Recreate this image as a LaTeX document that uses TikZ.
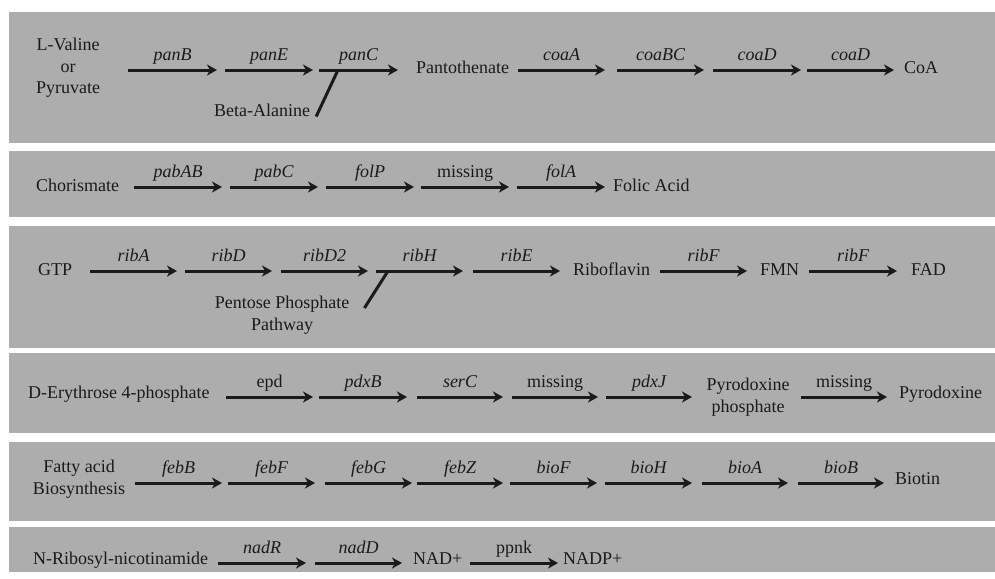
\documentclass[tikz,border=0pt]{standalone}
\usepackage{fontspec}
\setmainfont{Liberation Serif}
\usetikzlibrary{arrows.meta}

\definecolor{panelgray}{HTML}{ADADAD}
\definecolor{ink}{HTML}{1A1A1A}

\begin{document}
\begin{tikzpicture}[x=1pt, y=-1pt,
    every node/.style={font=\fontsize{18}{21.5}\selectfont, text=ink, inner sep=3pt},
    panel/.style={fill=panelgray},
    flow/.style={draw=ink, line width=3pt, -{Stealth[length=10pt,width=11pt,inset=3pt]}},
    feed/.style={draw=ink, line width=3pt},
    gene/.style={midway, anchor=base, yshift=10pt, font=\fontsize{18}{21.5}\selectfont\itshape},
    met/.style={anchor=base west},
    multi/.style={align=center}]

    % white page and the six grey bands
    \fill[white] (0,0) rectangle (995,578);
    \useasboundingbox (0,0) rectangle (995,578);
    \fill[panel] (9,12) rectangle (995,143);
    \fill[panel] (9,151) rectangle (995,217);
    \fill[panel] (9,226) rectangle (995,348);
    \fill[panel] (9,353) rectangle (995,433);
    \fill[panel] (9,442) rectangle (995,521);
    \fill[panel] (9,527) rectangle (995,572);

    % Coenzyme A
    \node[multi] (lval) at (68,68) {L-Valine\\or\\Pyruvate};
    \foreach \s/\e/\g [count=\i] in {128/217/panB, 225/313/panE, 319/398/panC} {
        \coordinate (pa\i) at (\s,70);
        \coordinate (pb\i) at (\e,70);
        \draw[flow] (pa\i) -- node[gene] {\g} (pb\i);
    }
    \node[met] (pant) at (413,74) {Pantothenate};
    \foreach \s/\e/\g [count=\i] in {518/605/coaA, 617/704/coaBC, 713/801/coaD, 807/894/coaD} {
        \coordinate (ca\i) at (\s,70);
        \coordinate (cb\i) at (\e,70);
        \draw[flow] (ca\i) -- node[gene] {\g} (cb\i);
    }
    \node[met] (coa) at (901,74) {CoA};
    \node (bala) at (262,110) {Beta-Alanine};
    \coordinate (bajoin) at (338,70);
    \draw[feed] ([xshift=3pt,yshift=3pt]bala.south east) -- (bajoin);

    % Folic acid
    \node[met] (chor) at (33,191) {Chorismate};
    \foreach \s/\e/\g [count=\i] in {134/222/pabAB, 230/318/pabC, 326/414/folP, 421/509/\upshape missing, 517/605/folA} {
        \coordinate (fa\i) at (\s,187);
        \coordinate (fb\i) at (\e,187);
        \draw[flow] (fa\i) -- node[gene] {\g} (fb\i);
    }
    \node[met] (folic) at (610,191) {Folic Acid};

    % Riboflavin, FMN, FAD
    \node[met] (gtp) at (35,275) {GTP};
    \foreach \s/\e/\g [count=\i] in {90/177/ribA, 185/272/ribD, 281/368/ribD2, 376/463/ribH, 473/560/ribE} {
        \coordinate (ra\i) at (\s,271);
        \coordinate (rb\i) at (\e,271);
        \draw[flow] (ra\i) -- node[gene] {\g} (rb\i);
    }
    \node[met] (ribo) at (570,275) {Riboflavin};
    \coordinate (fmna) at (660,271);
    \coordinate (fmnb) at (747,271);
    \draw[flow] (fmna) -- node[gene] {ribF} (fmnb);
    \node[met] (fmn) at (757,275) {FMN};
    \coordinate (fada) at (809,271);
    \coordinate (fadb) at (897,271);
    \draw[flow] (fada) -- node[gene] {ribF} (fadb);
    \node[met] (fad) at (908,275) {FAD};
    \node[multi] (pent) at (282,315) {Pentose Phosphate\\Pathway};
    \coordinate (pentjoin) at (388,271);
    \draw[feed] ([xshift=12pt,yshift=7pt]pent.east) -- (pentjoin);

    % Pyridoxine
    \node[met] (eryth) at (25,398) {D-Erythrose 4-phosphate};
    \foreach \s/\e/\g [count=\i] in {226/313/\upshape epd, 319/407/pdxB, 417/503/serC, 512/598/\upshape missing, 606/692/pdxJ} {
        \coordinate (xa\i) at (\s,397);
        \coordinate (xb\i) at (\e,397);
        \draw[flow] (xa\i) -- node[gene] {\g} (xb\i);
    }
    \node[multi] (pyrp) at (748,397) {Pyrodoxine\\phosphate};
    \coordinate (pyra) at (801,397);
    \coordinate (pyrb) at (887,397);
    \draw[flow] (pyra) -- node[gene, font=\fontsize{18}{21.5}\selectfont] {missing} (pyrb);
    \node[met] (pyr) at (896,398) {Pyrodoxine};

    % Biotin
    \node[multi] (fatty) at (79,479) {Fatty acid\\Biosynthesis};
    \foreach \s/\e/\g [count=\i] in {135/222/febB, 228/315/febF, 325/412/febG, 417/503/febZ, 510/597/bioF, 605/692/bioH, 702/788/bioA, 798/884/bioB} {
        \coordinate (ba\i) at (\s,483);
        \coordinate (bb\i) at (\e,483);
        \draw[flow] (ba\i) -- node[gene] {\g} (bb\i);
    }
    \node[met] (biotin) at (892,484) {Biotin};

    % NAD(P)
    \node[met] (nrib) at (30,564) {N-Ribosyl-nicotinamide};
    \foreach \s/\e/\g [count=\i] in {218/306/nadR, 315/402/nadD} {
        \coordinate (na\i) at (\s,563);
        \coordinate (nb\i) at (\e,563);
        \draw[flow] (na\i) -- node[gene] {\g} (nb\i);
    }
    \node[met] (nad) at (410,564) {NAD+};
    \coordinate (ppa) at (470,563);
    \coordinate (ppb) at (558,563);
    \draw[flow] (ppa) -- node[gene, font=\fontsize{18}{21.5}\selectfont] {ppnk} (ppb);
    \node[met] (nadp) at (560,564) {NADP+};
\end{tikzpicture}
\end{document}
